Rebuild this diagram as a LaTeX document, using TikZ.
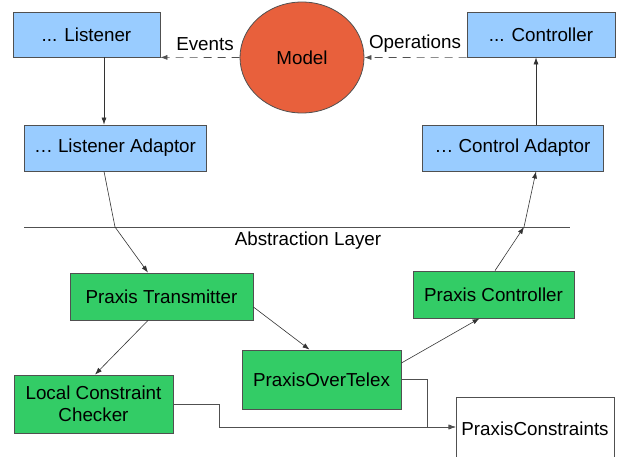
\documentclass[tikz,border=0pt]{standalone}
\usepackage{fontspec}
\setmainfont{Liberation Sans}
\usetikzlibrary{arrows.meta,shapes.geometric}
\definecolor{bluebox}{HTML}{99CCFF}
\definecolor{greenbox}{HTML}{33CC66}
\definecolor{modelred}{HTML}{E8603C}
\definecolor{edge}{HTML}{505050}
\tikzset{
  box/.style={draw=edge,line width=0.8pt,inner sep=0pt,font=\fontsize{18.8}{22}\selectfont,align=center},
  bluebox/.style={box,fill=bluebox},
  greenbox/.style={box,fill=greenbox},
  conn/.style={draw=black!80,line width=0.6pt,-{Latex[length=7pt,width=5pt]}},
  lbl/.style={font=\fontsize{18.8}{22}\selectfont,inner sep=0pt},
}
\begin{document}
\begin{tikzpicture}[x=1pt,y=-1pt]
\useasboundingbox (0,0) rectangle (623,457);
\node[bluebox,minimum width=147pt,minimum height=45pt] (L) at (86.5,34.5) {... Listener};
\node[draw=edge,line width=0.8pt,fill=modelred,ellipse,minimum width=124pt,minimum height=111pt,inner sep=0pt,font=\fontsize{18.8}{22}\selectfont] (M) at (302,57.5) {Model};
\node[bluebox,minimum width=148pt,minimum height=45pt] (C) at (541,34.5) {... Controller};
\node[bluebox,minimum width=182pt,minimum height=46pt] (LA) at (115,148) {… Listener Adaptor};
\node[bluebox,minimum width=181pt,minimum height=46pt] (CA) at (512.5,148) {… Control Adaptor};
\node[greenbox,minimum width=183pt,minimum height=47pt] (PT) at (161.5,296.5) {Praxis Transmitter};
\node[greenbox,minimum width=161pt,minimum height=47pt] (PC) at (493.5,294.5) {Praxis Controller};
\node[greenbox,minimum width=159pt,minimum height=59pt] (PO) at (321.5,379.5) {PraxisOverTelex};
\node[greenbox,minimum width=159pt,minimum height=58pt] (LC) at (93.5,404) {Local Constraint\\Checker};
\node[box,fill=white,minimum width=158pt,minimum height=63pt] (PS) at (535,428.5) {PraxisConstraints};

\coordinate (AL) at (24,227);
\coordinate (AR) at (570,227);
\draw[draw=edge,line width=0.8pt] (AL) -- (AR);
\node[lbl] (ALab) at (308,241) {Abstraction Layer};

\draw[conn,dashed,dash pattern=on 8pt off 6pt,draw=edge] (M.west) -- (L.south east);
\node[lbl] (EV) at (205,44) {Events};
\draw[conn,dashed,dash pattern=on 8pt off 6pt,draw=edge] (C.south west) -- (M.east);
\node[lbl] (OP) at (415,44) {Operations};

\draw[conn] ([xshift=17.5pt]L.south) -- ([xshift=-11pt]LA.north);
\draw[conn] ([xshift=-5pt]C.south |- CA.north) -- ([xshift=-5pt]C.south);

\coordinate (K1) at (115,227);
\coordinate (K2) at (524,227);
\draw[conn,-] ([xshift=-11pt]LA.south) -- (K1);
\draw[conn] (K1) -- ([xshift=-13.5pt]PT.north);
\draw[conn] ([xshift=1.5pt]PC.north) -- (K2);
\draw[conn] (K2) -- ([xshift=23.5pt]CA.south);

\draw[conn] ([xshift=-13.5pt]PT.south) -- ([xshift=1.5pt]LC.north);
\draw[conn] ([yshift=-10.5pt]PT.east) -- ([xshift=-12pt]PO.north);
\draw[conn] ([yshift=16.5pt]PO.east) -- ([xshift=-14pt]PC.south);

\draw[conn,draw=edge] (LC.east) -- ++(46,0) |- ([yshift=1.5pt]PS.west);
\draw[conn,draw=edge] (PO.east) -- ++(26,0) |- ([yshift=1.5pt]PS.west);
\end{tikzpicture}
\end{document}
